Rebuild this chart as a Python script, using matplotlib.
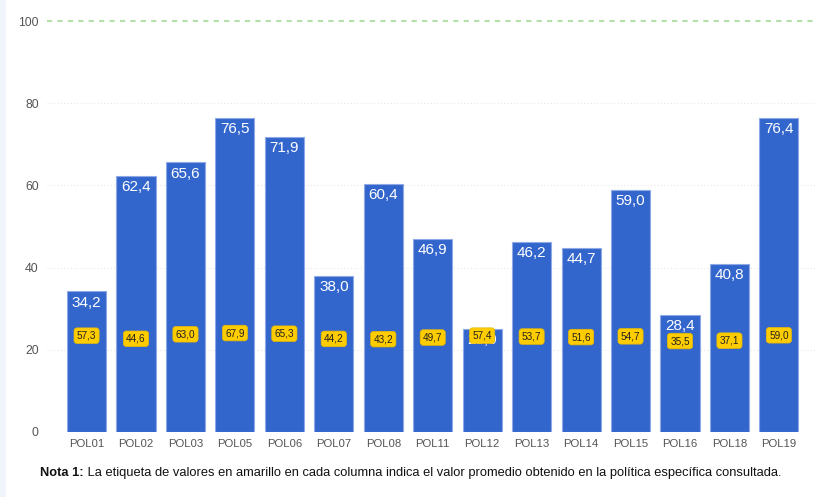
import matplotlib
matplotlib.use("Agg")
import matplotlib.pyplot as plt
from matplotlib.patches import Rectangle

categories = ["POL01", "POL02", "POL03", "POL05", "POL06", "POL07", "POL08", "POL11",
              "POL12", "POL13", "POL14", "POL15", "POL16", "POL18", "POL19"]
values = [34.2, 62.4, 65.6, 76.5, 71.9, 38.0, 60.4, 46.9, 25.0, 46.2, 44.7, 59.0, 28.4, 40.8, 76.4]
averages = [57.3, 44.6, 63.0, 67.9, 65.3, 44.2, 43.2, 49.7, 57.4, 53.7, 51.6, 54.7, 35.5, 37.1, 59.0]
yticks = [0, 20, 40, 60, 80, 100]
note_bold = "Nota 1:"
note_text = " La etiqueta de valores en amarillo en cada columna indica el valor promedio obtenido en la política específica consultada."

plt.rcParams['font.family'] = ['Liberation Sans', 'DejaVu Sans']

fig = plt.figure(figsize=(8.15, 4.97), dpi=100)
fig.patch.set_facecolor('white')
fig.patches.append(Rectangle((0, 0), 6/815, 1, transform=fig.transFigure,
                             facecolor='#f2f4fb', edgecolor='none', zorder=0))

ax = fig.add_axes([47/815, 1-432/497, 1-47/815, (432-8.7)/497])
ax.set_facecolor('none')
x = list(range(len(categories)))
bars = ax.bar(x, values, width=0.79, color='#3366cc', edgecolor='#8fa9e6', linewidth=0.8, zorder=2)

for xi, v in zip(x, values):
    ax.annotate(f"{v:.1f}".replace('.', ','), (xi, v), xytext=(0, -3), textcoords='offset points',
                ha='center', va='top', color='white', fontsize=11, zorder=3)

for xi, a in zip(x, averages):
    ax.text(xi, 20 + 0.06 * a, f"{a:.1f}".replace('.', ','), ha='center', va='center',
            fontsize=7.2, color='#222222', zorder=5,
            bbox=dict(boxstyle='round,pad=0.28,rounding_size=0.3', facecolor='#ffcc00',
                      edgecolor='#e6b800', linewidth=0.5))

for t in yticks[:-1]:
    ax.axhline(t, color='#e8e8e8', linestyle=(0, (1, 2)), linewidth=0.8, zorder=1)
ax.axhline(100, color='#b5dfab', linestyle=(0, (2.5, 2.5)), linewidth=1.5, zorder=1)

ax.set_xlim(-0.8, 14.73)
ax.set_ylim(0, 103)
ax.set_yticks(yticks)
ax.set_yticklabels([str(t) for t in yticks])
ax.set_xticks(x)
ax.set_xticklabels(categories)
ax.tick_params(axis='both', length=0, labelcolor='#555555')
ax.tick_params(axis='y', pad=6, labelsize=8.8)
ax.tick_params(axis='x', pad=5, labelsize=8.2)
for s in ax.spines.values():
    s.set_visible(False)

t1 = fig.text(40/815, 1-473/497, note_bold, fontsize=9.3, fontweight='bold', color='#111111', va='center')
fig.canvas.draw()
bb = t1.get_window_extent()
fig.text(bb.x1/815, 1-473/497, note_text, fontsize=9.3, color='#111111', va='center')

fig.savefig("out.png", dpi=100)
